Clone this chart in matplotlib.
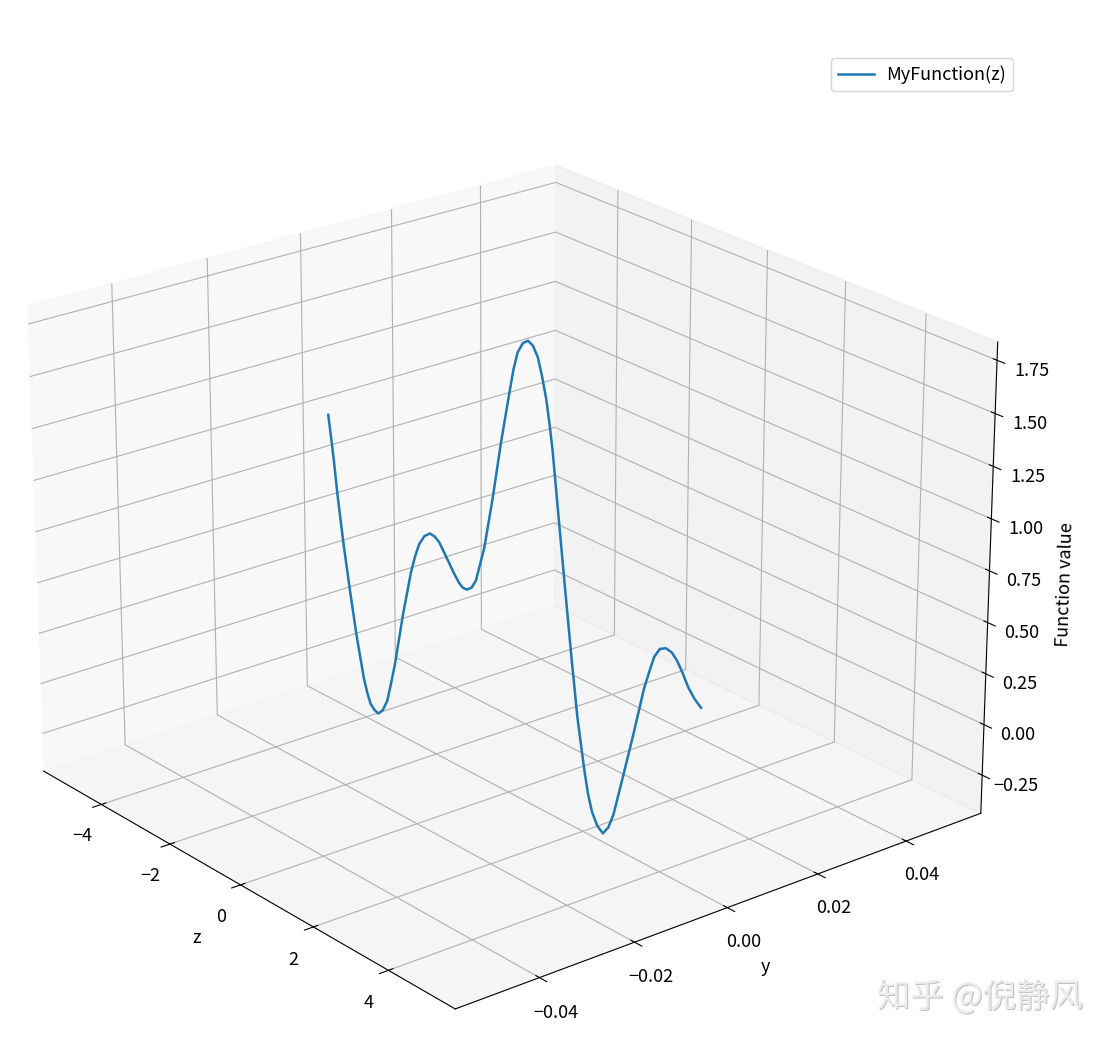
import matplotlib
matplotlib.use('Agg')
import numpy as np
import matplotlib.pyplot as plt

plt.rcParams['font.family'] = ['Noto Sans CJK SC', 'DejaVu Sans']

# 值
z_vals = [-5.0, -4.86, -4.76, -4.61, -4.44, -4.26, -4.06, -3.96, -3.87, -3.76, -3.65, -3.52, -3.39, -3.28, -3.16, -2.92,
          -2.68, -2.56, -2.45, -2.3, -2.15, -2.02, -1.89, -1.75, -1.61, -1.47, -1.34, -1.24, -1.13, -1.0, -0.885, -0.655,
          -0.43, -0.207, 0.02, 0.13, 0.24, 0.38, 0.515, 0.64, 0.77, 0.88, 0.99, 1.08, 1.16, 1.35, 1.5, 1.67, 1.84,
          2.03, 2.13, 2.24, 2.38, 2.53, 2.67, 2.8, 2.92, 3.05, 3.18, 3.31, 3.56, 3.69, 3.81, 3.95, 4.1, 4.25, 4.39, 4.53, 4.68, 4.84, 5.0]
func_vals = [1.0, 0.793, 0.617, 0.394, 0.173, -0.044, -0.246, -0.315, -0.361, -0.382, -0.39, -0.36, -0.30, -0.205, -0.093, 0.179,
             0.416, 0.505, 0.572, 0.625, 0.651, 0.648, 0.63, 0.59, 0.549, 0.508, 0.476, 0.463, 0.463, 0.485, 0.529, 0.709,
             0.965, 1.249, 1.509, 1.63, 1.72, 1.775, 1.796, 1.783, 1.739, 1.66, 1.562, 1.45, 1.335, 0.982, 0.705, 0.398, 0.11,
             -0.132, -0.24, -0.32, -0.375, -0.398, -0.355, -0.28, -0.175, -0.061, 0.055, 0.172, 0.407, 0.50, 0.582, 0.632, 0.649, 0.643, 0.615, 0.57, 0.514, 0.475, 0.449]
y_vals = [0.0] * len(z_vals)
z_ticks = [-4, -2, 0, 2, 4]
y_ticks = [-0.04, -0.02, 0.00, 0.02, 0.04]
f_ticks = [-0.25, 0.00, 0.25, 0.50, 0.75, 1.00, 1.25, 1.50, 1.75]

fig = plt.figure(figsize=(11.12, 10.44), dpi=100)
ax = fig.add_axes([-0.060, -0.0565, 1.009, 1.009], projection='3d')
ax.plot(z_vals, y_vals, func_vals, label='MyFunction(z)', color='#1f77b4', linewidth=1.8)
ax.view_init(elev=23, azim=-39)
ax.set_box_aspect((4, 4, 3))
ax.set_xlim(-5.73, 5.73)
ax.set_ylim(-0.0573, 0.0573)
ax.set_zlim(-0.44, 1.835)
ax.set_xticks(z_ticks)
ax.set_yticks(y_ticks)
ax.set_zticks(f_ticks)
ax.set_yticklabels(['−0.04', '−0.02', '0.00', '0.02', '0.04'])
ax.set_xlabel('z', fontsize=13, labelpad=11)
ax.set_ylabel('y', fontsize=13, labelpad=12)
ax.set_zlabel('Function value', fontsize=13, labelpad=10)
ax.tick_params(labelsize=13)
ax.tick_params(axis='x', pad=6)
ax.tick_params(axis='y', pad=6)
ax.tick_params(axis='z', pad=6)
ax.legend(loc='upper right', bbox_to_anchor=(0.919, 0.953), bbox_transform=fig.transFigure, fontsize=13,
          handletextpad=0.65)
# 水印
fig.text(0.9745, 0.043, '知乎 @倪静风', ha='right', va='center', fontsize=24, color='#c0c0c0')
fig.text(0.9735, 0.044, '知乎 @倪静风', ha='right', va='center', fontsize=24, color='#ececec')
fig.savefig('out.png', dpi=100)
